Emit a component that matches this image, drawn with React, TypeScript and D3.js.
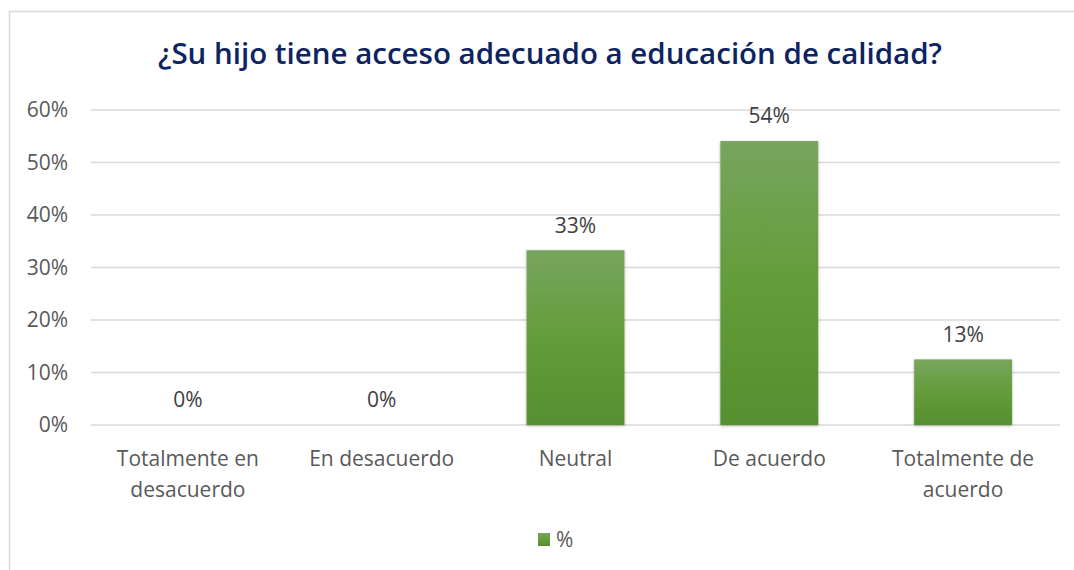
import React from "react";
import * as d3 from "d3";

const title = "¿Su hijo tiene acceso adecuado a educación de calidad?";
const categories: string[][] = [
  ["Totalmente en", "desacuerdo"],
  ["En desacuerdo"],
  ["Neutral"],
  ["De acuerdo"],
  ["Totalmente de", "acuerdo"],
];
const values = [0, 0, 0.333, 0.541, 0.125];
const valueLabels = ["0%", "0%", "33%", "54%", "13%"];
const yTicks = [0, 0.1, 0.2, 0.3, 0.4, 0.5, 0.6];
const seriesName = "%";

const W = 1074;
const H = 570;
const FONT = "'Open Sans', 'Liberation Sans', Arial, sans-serif";

export default function App() {
  const x = d3.scaleBand<number>().domain(d3.range(categories.length)).range([91, 1060]).paddingInner(0.495).paddingOuter(0.2475);
  const y = d3.scaleLinear().domain([0, 0.6]).range([425, 110]);
  const fmt = d3.format(".0%");

  return (
    <svg width={W} height={H} style={{ position: "absolute", left: 0, top: 0, display: "block" }}>
      <defs>
        <linearGradient id="barGrad" x1="0" y1="0" x2="0" y2="1">
          <stop offset="0" stopColor="#78a55e" />
          <stop offset="0.5" stopColor="#649c3a" />
          <stop offset="1" stopColor="#568f2f" />
        </linearGradient>
        <filter id="shadow" x="-10%" y="-10%" width="120%" height="120%">
          <feDropShadow dx="0" dy="1" stdDeviation="1.5" floodColor="#000" floodOpacity="0.3" />
        </filter>
      </defs>
      <rect x={0} y={0} width={W} height={H} fill="#fff" />
      <rect x={9.5} y={11.5} width={1100} height={600} fill="#fff" stroke="#d9d9d9" strokeWidth={1.5} />
      <text x={550} y={64} textAnchor="middle" fontFamily={FONT} fontSize={29.5} fill="#0d2461" style={{ fontWeight: 600 }}>
        {title}
      </text>
      {yTicks.map((t) => (
        <g key={t}>
          <line x1={91} x2={1060} y1={y(t)} y2={y(t)} stroke="#d9d9d9" strokeWidth={1.5} />
          <text x={68} y={y(t)} dy="0.35em" textAnchor="end" fontFamily={FONT} fontSize={21} fill="#595959">
            {fmt(t)}
          </text>
        </g>
      ))}
      {values.map((v, i) => (
        <g key={i}>
          {v > 0 && (
            <rect
              x={x(i)!}
              y={y(v)}
              width={x.bandwidth()}
              height={y(0) - y(v)}
              fill="url(#barGrad)"
              filter="url(#shadow)"
            />
          )}
          <text
            x={x(i)! + x.bandwidth() / 2}
            y={y(v) - 25}
            dy="0.35em"
            textAnchor="middle"
            fontFamily={FONT}
            fontSize={21}
            fill="#404040"
          >
            {valueLabels[i]}
          </text>
          {categories[i].map((line, j) => (
            <text
              key={j}
              x={x(i)! + x.bandwidth() / 2}
              y={459 + j * 31}
              dy="0.35em"
              textAnchor="middle"
              fontFamily={FONT}
              fontSize={21}
              fill="#595959"
            >
              {line}
            </text>
          ))}
        </g>
      ))}
      <rect x={538} y={533} width={12} height={13} fill="url(#barGrad)" />
      <text x={556} y={540} dy="0.35em" fontFamily={FONT} fontSize={21} fill="#595959">
        {seriesName}
      </text>
    </svg>
  );
}
